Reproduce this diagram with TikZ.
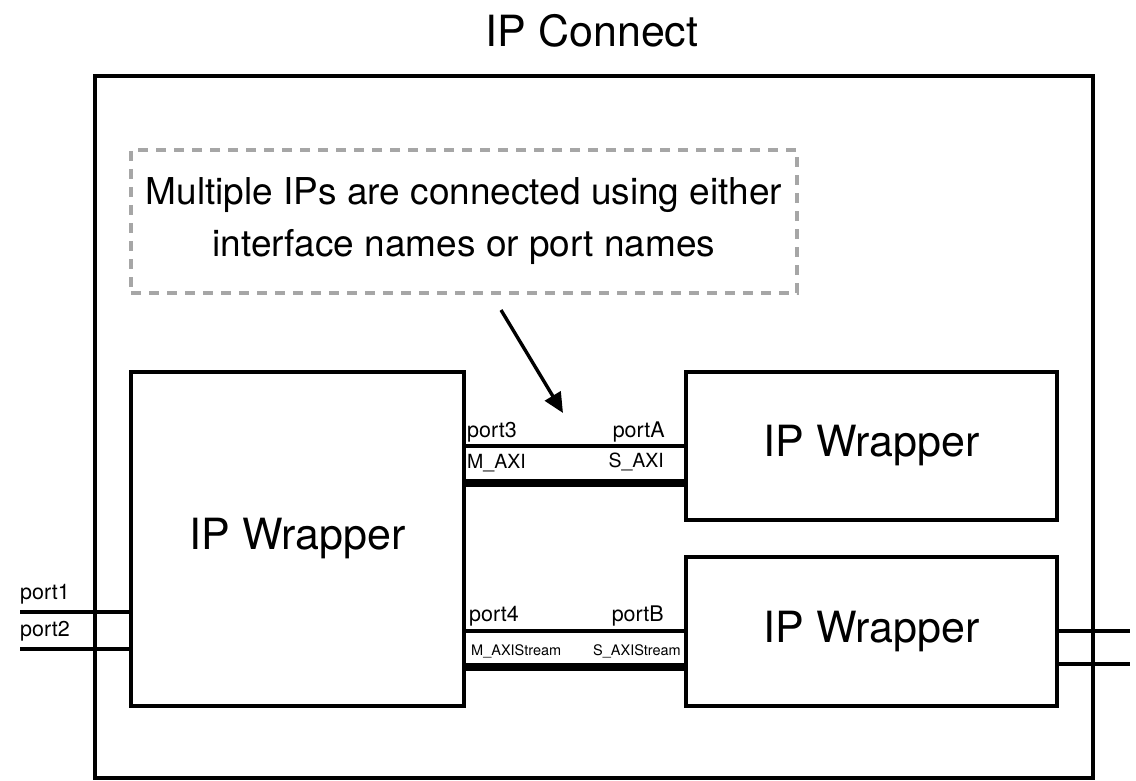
\documentclass[tikz,border=0pt]{standalone}
\usepackage{fontspec}
\setmainfont{TeX Gyre Heros}
\usetikzlibrary{arrows.meta}

\tikzset{
  wrapper/.style={draw,line width=3.6pt,rectangle,inner sep=0pt,font=\fontsize{43}{50}\selectfont},
  portlbl/.style={inner sep=0pt,font=\fontsize{21.5}{24}\selectfont},
  ifclbl/.style={inner sep=0pt,font=\fontsize{19.5}{22}\selectfont},
  ifcsmall/.style={inner sep=0pt,font=\fontsize{14.5}{17}\selectfont},
  wire/.style={line width=3.4pt},
  bus/.style={line width=8pt},
}

\begin{document}
\begin{tikzpicture}[x=1pt,y=-1pt]
\useasboundingbox (0,0) rectangle (1136,781);

\node[font=\fontsize{43}{50}\selectfont,anchor=base] (title) at (592,47) {IP Connect};
\node[draw,line width=3.8pt,minimum width=998pt,minimum height=702pt] (frame) at (594,427) {};

\node[draw=gray!70,line width=3.4pt,dash pattern=on 10pt off 8pt,minimum width=666pt,minimum height=143pt,
      align=center,font=\fontsize{37}{52}\selectfont] (note) at (464,221.5)
      {Multiple IPs are connected using either\\interface names or port names};

\node[wrapper,minimum width=333pt,minimum height=334pt] (wL) at (297.5,539) {IP Wrapper};
\node[wrapper,minimum width=371pt,minimum height=148pt] (wA) at (871.5,446) {IP Wrapper};
\node[wrapper,minimum width=371pt,minimum height=149pt] (wB) at (871.5,631.5) {IP Wrapper};

\coordinate (tail) at (501,310);
\coordinate (head) at (563,413);
\draw[wire,-{Triangle[length=20pt,width=18pt]}] (tail) -- (head);

% outside ports
\coordinate (in1) at (20,612);
\coordinate (in2) at (20,649);
\coordinate (out1) at (1130,631);
\coordinate (out2) at (1130,664);
\draw[wire] (in1) -- (wL.west |- in1);
\draw[wire] (in2) -- (wL.west |- in2);
\draw[wire] (wB.east |- out1) -- (out1);
\draw[wire] (wB.east |- out2) -- (out2);
\node[portlbl,anchor=base west] (lp1) at (20,599) {port1};
\node[portlbl,anchor=base west] (lp2) at (20,636) {port2};

% wrapper to wrapper
\draw[wire] (wL.east |- 0,446) -- (wA.west |- 0,446);
\draw[bus]  (wL.east |- 0,483) -- (wA.west |- 0,483);
\draw[wire] (wL.east |- 0,631) -- (wB.west |- 0,631);
\draw[bus]  (wL.east |- 0,667) -- (wB.west |- 0,667);

\node[portlbl,anchor=base west] (lp3) at (467,437) {port3};
\node[portlbl,anchor=base east] (lpA) at (665,437) {portA};
\node[ifclbl,anchor=base west] (lm1) at (467,468) {M\_AXI};
\node[ifclbl,anchor=base east] (ls1) at (664,467) {S\_AXI};
\node[portlbl,anchor=base west] (lp4) at (469,621) {port4};
\node[portlbl,anchor=base east] (lpB) at (664,621) {portB};
\node[ifcsmall,anchor=base west] (lm2) at (471,655) {M\_AXIStream};
\node[ifcsmall,anchor=base east] (ls2) at (681,655) {S\_AXIStream};
\end{tikzpicture}
\end{document}
